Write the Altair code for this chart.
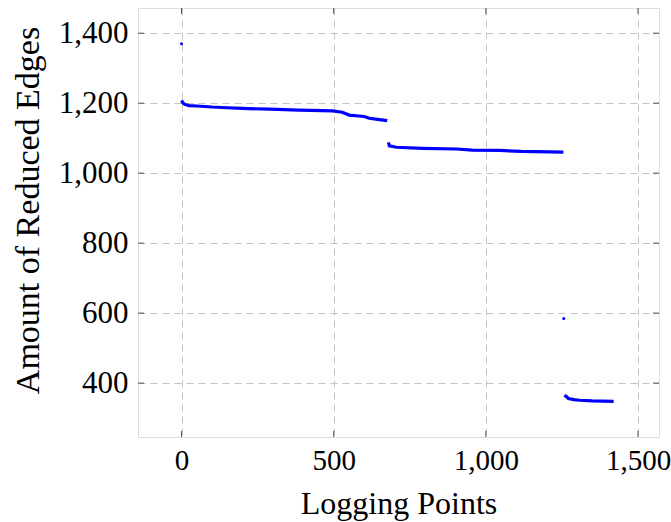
import altair as alt
import pandas as pd

# Line segments (Logging Points, Amount of Reduced Edges)
seg_a_x = [0, 5, 12, 25, 50, 100, 150, 200, 289, 387, 496, 528, 551, 600, 617, 650, 676]
seg_a_y = [1208, 1200, 1196, 1193, 1192, 1189, 1187, 1185, 1183, 1180, 1178, 1174, 1166, 1162, 1157, 1153, 1150]
seg_b_x = [680, 683, 706, 792, 903, 956, 1044, 1116, 1255]
seg_b_y = [1088, 1078, 1074, 1071, 1069, 1066, 1065, 1062, 1060]
seg_c_x = [1258, 1264, 1271, 1290, 1308, 1350, 1420]
seg_c_y = [365, 362, 356, 353, 351, 349, 348]
# Isolated points
iso_x = [0, 1256]
iso_y = [1370, 585]

x_ticks = [0, 500, 1000, 1500]
y_ticks = [400, 600, 800, 1000, 1200, 1400]
x_domain = [-143, 1569]
y_domain = [246, 1472]

rows = []
for name, xs, ys in [("a", seg_a_x, seg_a_y), ("b", seg_b_x, seg_b_y), ("c", seg_c_x, seg_c_y)]:
    for i, (xv, yv) in enumerate(zip(xs, ys)):
        rows.append({"seg": name, "order": i, "x": xv, "y": yv})
lines_df = pd.DataFrame(rows)
pts_df = pd.DataFrame({"x": iso_x, "y": iso_y})
xt_df = pd.DataFrame({"x": x_ticks})
yt_df = pd.DataFrame({"y": y_ticks})

FONT = "Liberation Serif"
W, H = 521, 429

xscale = alt.Scale(domain=x_domain, nice=False, zero=False)
yscale = alt.Scale(domain=y_domain, nice=False, zero=False)

x_axis = alt.Axis(values=x_ticks, format=",d", title="Logging Points", grid=True,
                  gridDash=[7, 5], gridColor="#c4c4c4", gridWidth=1, domain=False, ticks=False,
                  labelPadding=9, labelFontSize=29, titleFontSize=32, labelFont=FONT, titleFont=FONT,
                  labelColor="black", titleColor="black", titleFontWeight="normal", titlePadding=13)
y_axis = alt.Axis(values=y_ticks, format=",d", title="Amount of Reduced Edges", grid=True,
                  gridDash=[7, 5], gridColor="#c4c4c4", gridWidth=1, domain=False, ticks=False,
                  labelPadding=10, labelFontSize=31, titleFontSize=34, labelFont=FONT, titleFont=FONT,
                  labelColor="black", titleColor="black", titleFontWeight="normal",
                  titleX=-100, titleY=202, titleBaseline="alphabetic", titleAngle=270)

lines = alt.Chart(lines_df).mark_line(color="#0000ff", strokeWidth=3.2).encode(
    x=alt.X("x:Q", scale=xscale, axis=x_axis),
    y=alt.Y("y:Q", scale=yscale, axis=y_axis),
    detail="seg:N",
    order="order:Q",
)
points = alt.Chart(pts_df).mark_circle(color="#0000ff", size=9, opacity=1).encode(
    x=alt.X("x:Q", scale=xscale),
    y=alt.Y("y:Q", scale=yscale),
)

tick_color = "#555555"
xt_bottom = alt.Chart(xt_df).mark_rule(color=tick_color, strokeWidth=1).encode(
    x=alt.X("x:Q", scale=xscale), y=alt.value(H), y2=alt.value(H - 6))
xt_top = alt.Chart(xt_df).mark_rule(color=tick_color, strokeWidth=1).encode(
    x=alt.X("x:Q", scale=xscale), y=alt.value(0), y2=alt.value(6))
yt_left = alt.Chart(yt_df).mark_rule(color=tick_color, strokeWidth=1).encode(
    y=alt.Y("y:Q", scale=yscale), x=alt.value(0), x2=alt.value(6))
yt_right = alt.Chart(yt_df).mark_rule(color=tick_color, strokeWidth=1).encode(
    y=alt.Y("y:Q", scale=yscale), x=alt.value(W), x2=alt.value(W - 6))

chart = alt.layer(xt_bottom, xt_top, yt_left, yt_right, lines, points).properties(
    width=W, height=H,
    autosize=alt.AutoSizeParams(type="none"),
    padding={"left": 138, "top": 8, "right": 12, "bottom": 85},
).configure_view(stroke="#222222", strokeWidth=1.4).configure(background="white")

chart.save("out.html", embed_options={"renderer": "svg", "actions": False})
